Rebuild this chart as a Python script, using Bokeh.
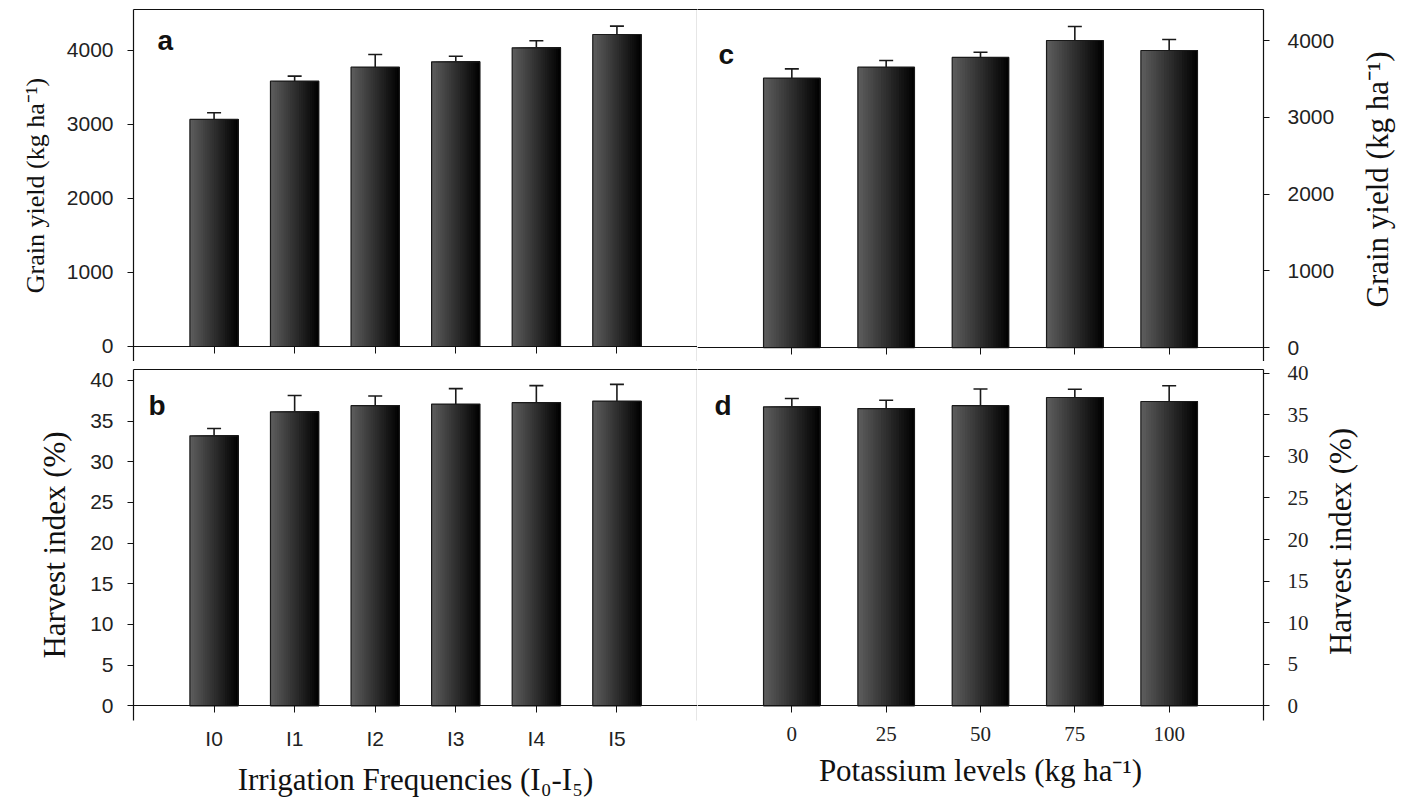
import math
from bokeh.plotting import figure
from bokeh.layouts import column, row
from bokeh.models import (ColumnDataSource, FactorRange, Range1d, FixedTicker, Whisker,
                          TeeHead, LinearAxis, CategoricalAxis, Label)
from bokeh.transform import dodge
from bokeh.embed import file_html
from bokeh.resources import INLINE

# ---------------- data ----------------
irr_levels = ["I0", "I1", "I2", "I3", "I4", "I5"]
irr_yield = [3068, 3585, 3775, 3847, 4036, 4216]
irr_yield_err = [90, 68, 170, 76, 95, 113]
irr_hi = [33.2, 36.15, 36.9, 37.1, 37.27, 37.47]
irr_hi_err = [0.9, 2.0, 1.2, 1.9, 2.1, 2.05]

k_levels = ["0", "25", "50", "75", "100"]
k_yield = [3509, 3652, 3779, 4000, 3870]
k_yield_err = [122, 87, 69, 183, 143]
k_hi = [35.96, 35.75, 36.1, 37.08, 36.6]
k_hi_err = [1.0, 1.0, 2.0, 1.0, 1.9]

yield_ticks = [0, 1000, 2000, 3000, 4000]
hi_ticks = [0, 5, 10, 15, 20, 25, 30, 35, 40]

SANS = "Liberation Sans"
SERIF = "Liberation Serif"
AXC = "#111111"
TXT = "#222222"

TOP_H, BOT_H = 361, 446


def panel(cats, vals, errs, y_start, y_end, ticks, side, top_row, letter, letter_xy,
          y_label=None, y_label_size=None, x_label=None, tick_font=SANS, tick_size="21px",
          ylab_standoff=20, right_border=0):
    if side == "left":
        width, mbl, mbr = 697, 133, 0
    else:
        width, mbl, mbr = 566 + right_border, 0, right_border
    if top_row:
        height, mbt, mbb = TOP_H, 9, 0
    else:
        height, mbt, mbb = BOT_H, 8, 87

    p = figure(x_range=FactorRange(factors=cats, range_padding=0.5,
                                   range_padding_units="absolute"),
               y_range=Range1d(y_start, y_end),
               width=width, height=height,
               min_border_left=mbl, min_border_right=mbr,
               min_border_top=mbt, min_border_bottom=mbb,
               y_axis_location=side, toolbar_location=None,
               output_backend="svg", tools="")
    p.outline_line_color = None
    p.xgrid.visible = False
    p.ygrid.visible = False
    p.background_fill_color = "white"
    p.border_fill_color = "white"

    upper = [v + e for v, e in zip(vals, errs)]
    src = ColumnDataSource(dict(cat=cats, val=vals, upper=upper))

    # gradient-filled bars: stacked strips anchored at the right edge
    bw = 0.6
    n = 22
    for i in range(n):
        left = -bw / 2 + i * bw / n
        w = bw / 2 - left
        c = left + w / 2
        g = int(round(92 - 90 * i / (n - 1)))
        p.vbar(x=dodge("cat", c, range=p.x_range), top="val", bottom=0, width=w,
               fill_color=(g, g, g), line_color=None, source=src)
    p.vbar(x="cat", top="val", bottom=0, width=bw, fill_color=None,
           line_color="#1a1a1a", line_width=1.2, source=src)

    wh = Whisker(source=src, base="cat", upper="upper", lower="val", dimension="height",
                 line_color="#1a1a1a", line_width=1.6,
                 upper_head=TeeHead(size=14, line_color="#1a1a1a", line_width=1.6),
                 lower_head=None)
    p.add_layout(wh)

    # x axis line and ticks at y = 0
    xax = p.below[0]
    xax.fixed_location = 0
    xax.axis_line_color = AXC
    xax.axis_line_width = 1.2
    xax.major_tick_line_color = AXC
    xax.major_tick_in = 0
    xax.major_tick_out = 7
    xax.minor_tick_line_color = None
    xax.major_label_text_color = None

    if not top_row:
        lab = CategoricalAxis(axis_line_color=None, major_tick_line_color=None,
                              minor_tick_line_color=None, major_tick_in=0, major_tick_out=0,
                              major_label_text_font=tick_font,
                              major_label_text_font_size=tick_size,
                              major_label_text_color=TXT, major_label_standoff=6,
                              axis_label=x_label, axis_label_text_font=SERIF,
                              axis_label_text_font_style="normal",
                              axis_label_text_font_size="31px",
                              axis_label_text_color=AXC, axis_label_standoff=9,
                              separator_line_color=None)
        p.add_layout(lab, "below")

    # y axis
    yax = p.left[0] if side == "left" else p.right[0]
    yax.ticker = FixedTicker(ticks=ticks)
    yax.axis_line_color = AXC
    yax.axis_line_width = 1.2
    yax.major_tick_line_color = AXC
    yax.major_tick_in = 0
    yax.major_tick_out = 6
    yax.minor_tick_line_color = None
    yax.major_label_text_font = tick_font
    yax.major_label_text_font_size = tick_size
    yax.major_label_text_color = TXT
    yax.major_label_standoff = 14 if side == "left" else 18
    if side == "left":
        yax.axis_label = y_label
        yax.axis_label_text_font = SERIF
        yax.axis_label_text_font_style = "normal"
        yax.axis_label_text_font_size = y_label_size
        yax.axis_label_text_color = AXC
        yax.axis_label_standoff = ylab_standoff

    # frame borders (top, and right for left-hand panels)
    p.add_layout(CategoricalAxis(axis_line_color=AXC, axis_line_width=1.2,
                                 major_tick_line_color=None, minor_tick_line_color=None,
                                 major_tick_in=0, major_tick_out=0,
                                 major_label_text_color=None, major_label_standoff=0,
                                 separator_line_color=None, group_text_color=None,
                                 subgroup_text_color=None),
                 "above")
    if side == "left":
        p.add_layout(LinearAxis(ticker=FixedTicker(ticks=[]),
                                axis_line_color=AXC, axis_line_width=1.2,
                                major_tick_line_color=None, minor_tick_line_color=None,
                                major_tick_in=0, major_tick_out=0),
                     "right")

    p.add_layout(Label(x=letter_xy[0], y=letter_xy[1], x_units="screen", y_units="screen",
                       text=letter, text_font=SANS, text_font_style="bold",
                       text_font_size="28px", text_color="#111111",
                       text_baseline="alphabetic"))
    return p


def right_title(text, size, width, height, xy):
    """Narrow strip holding a right-hand axis title that reads bottom-to-top."""
    t = figure(width=width, height=height, x_range=Range1d(0, 1), y_range=Range1d(0, 1),
               min_border_left=0, min_border_right=0, min_border_top=0, min_border_bottom=0,
               toolbar_location=None, output_backend="svg", tools="")
    t.axis.visible = False
    t.grid.visible = False
    t.outline_line_color = None
    t.add_layout(Label(x=xy[0], y=xy[1], x_units="screen", y_units="screen",
                       text=text, angle=math.pi / 2, text_align="center",
                       text_baseline="middle", text_font=SERIF, text_font_size=size,
                       text_color=AXC))
    return t


pa = panel(irr_levels, irr_yield, irr_yield_err, -203, 4554, yield_ticks, "left", True,
           "a", (24, 321), "Grain yield (kg ha\u207b\u00b9)", "26px", ylab_standoff=14)
pc = panel(k_levels, k_yield, k_yield_err, -182, 4404, yield_ticks, "right", True,
           "c", (21, 307), right_border=84)
tc = right_title("Grain yield (kg ha\u207b\u00b9)", "31px", 57, TOP_H, (30, 182))

pb = panel(irr_levels, irr_hi, irr_hi_err, -1.81, 41.35, hi_ticks, "left", False,
           "b", (15, 315), "Harvest index (%)", "31px",
           x_label="Irrigation Frequencies (I\u2080-I\u2085)", ylab_standoff=15)
pd = panel(k_levels, k_hi, k_hi_err, -1.77, 40.45, hi_ticks, "right", False,
           "d", (17, 315), x_label="Potassium levels (kg ha\u207b\u00b9)",
           tick_font=SERIF, tick_size="21px", right_border=55)
td = right_title("Harvest index (%)", "31px", 86, BOT_H, (22, 179))

layout = column(row(pa, pc, tc), row(pb, pd, td))
open("out.html", "w").write(file_html(layout, INLINE))
